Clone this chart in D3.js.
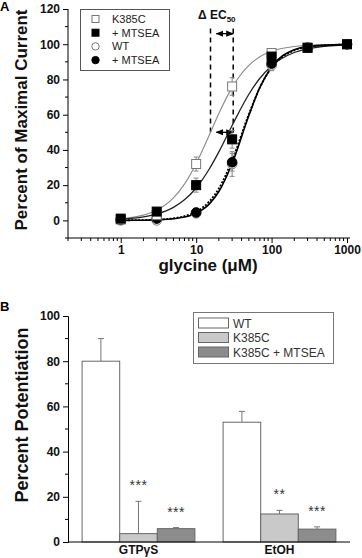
<!DOCTYPE html>
<html><head><meta charset="utf-8">
<script src="https://cdn.jsdelivr.net/npm/d3@7"></script>
<style>body{margin:0;background:#fff} svg{display:block} text{font-family:Arial,"Liberation Sans",sans-serif}</style>
</head><body>
<svg id="c" width="362" height="558"></svg>
<script>
// ---------- Panel A data ----------
const concentrations = [1, 3, 10, 30, 100, 300, 1000];
const k385cValues = [0.5, 3, 32, 76, 95, 98, 100];
const k385cErrors = [0.5, 1, 4, 5, 2, 1, 1];
const k385cMtseaValues = [1, 5, 20, 46, 93, 98, 100];
const k385cMtseaErrors = [0.5, 1.5, 4, 5, 2, 1, 1];
const wtValues = [0, 0, 4, 32, 88, 98, 100];
const wtErrors = [0.5, 0.5, 1, 7, 3, 1, 1];
const wtMtseaValues = [0.5, 1, 4.5, 33, 89, 98, 100];
const wtMtseaErrors = [0.5, 0.5, 1, 5, 3, 1, 1];
// fitted curves
const fitConcentrations = [1, 2, 3, 5, 7, 10, 15, 20, 30, 50, 70, 100, 200, 300, 1000];
const k385cFit = [0.9, 3.0, 5.8, 12.8, 20.6, 32.2, 48.6, 60.7, 75.5, 88.0, 92.9, 96.0, 98.7, 99.4, 99.9];
const k385cMtseaFit = [0.7, 2.0, 3.6, 7.4, 11.7, 18.4, 29.3, 38.9, 53.9, 71.6, 80.7, 87.7, 95.3, 97.4, 99.6];
const wtFit = [0.03, 0.1, 0.3, 0.9, 1.9, 4.1, 9.4, 16.4, 32.3, 59.5, 75.5, 87.1, 96.9, 98.7, 99.9];
const wtMtseaFit = [0.04, 0.2, 0.4, 1.2, 2.4, 4.9, 10.8, 18.1, 34.2, 60.3, 75.5, 86.7, 96.5, 98.5, 99.9];
const ec50Markers = [15.5, 31];
const ec50ArrowSpan = [18.5, 31];
const ec50ArrowLevels = [106, 50];
const legendALabels = ["K385C", "+ MTSEA", "WT", "+ MTSEA"];
const yTicksA = [0, 20, 40, 60, 80, 100, 120];
const xTicksA = [1, 10, 100, 1000];

// ---------- Panel B data ----------
const groups = ["GTP\u03B3S", "EtOH"];
const conditions = ["WT", "K385C", "K385C + MTSEA"];
const gtpValues = [80, 3.7, 5.9];
const gtpErrors = [10, 14.3, 0.5];
const etohValues = [53, 12.4, 5.7];
const etohErrors = [4.8, 1.6, 1];
const significance = [["", "***", "***"], ["", "**", "***"]];
const yTicksB = [0, 20, 40, 60, 80, 100];

const svg = d3.select("#c");
const FONT = 'Arial,"Liberation Sans",sans-serif';

// ================= Panel A =================
const xA = d3.scaleLog().domain([0.2, 1000]).range([68, 347]);
const yA = d3.scaleLinear().domain([-10, 120]).range([238, 9]);

const gA = svg.append("g");
const yAxA = d3.axisLeft(yA).tickValues(yTicksA).tickSize(5).tickPadding(3).tickFormat(d3.format("d"));
const yAxisA = gA.append("g").attr("transform", "translate(68,0)").call(yAxA);
yAxisA.select(".domain").attr("d", `M0,${yA(120)}V${yA(-10)}`);
const yMinorA = d3.range(-10, 120, 20);
gA.append("g").selectAll("line").data(yMinorA).join("line")
  .attr("x1", 68).attr("x2", 65).attr("y1", d => yA(d)).attr("y2", d => yA(d)).attr("stroke", "#000");
const xAxA = d3.axisBottom(xA).tickValues(xTicksA).tickSize(5).tickPadding(2).tickFormat(d3.format("d"));
const xAxisA = gA.append("g").attr("transform", `translate(0,${yA(-10)})`).call(xAxA);
xAxisA.select(".domain").attr("d", `M68,0H350`);
const xMinorA = [];
[0.1, 1, 10, 100].forEach(dec => { for (let k = 2; k <= 9; k++) { const v = dec * k; if (v >= 0.2 && v < 1000) xMinorA.push(v); } });
gA.append("g").selectAll("line").data(xMinorA).join("line")
  .attr("x1", d => xA(d)).attr("x2", d => xA(d)).attr("y1", yA(-10)).attr("y2", yA(-10) + 3).attr("stroke", "#000");
[yAxisA, xAxisA].forEach(a => {
  a.selectAll("text").attr("font-family", FONT).attr("font-size", 12).attr("font-weight", "bold").attr("fill", "#111");
  a.selectAll("line,path").attr("stroke", "#000");
});

gA.append("text").attr("transform", `translate(27,120) rotate(-90)`).attr("text-anchor", "middle")
  .attr("font-size", 17).attr("font-weight", "bold").attr("fill", "#111").text("Percent of Maximal Current");
gA.append("text").attr("x", 208).attr("y", 271).attr("text-anchor", "middle")
  .attr("font-size", 17).attr("font-weight", "bold").attr("fill", "#111").text("glycine (\u03BCM)");
svg.append("text").attr("x", 0).attr("y", 11).attr("font-size", 13).attr("font-weight", "bold").text("A");

// EC50 annotation
const dashG = gA.append("g");
ec50Markers.forEach(v => {
  dashG.append("line").attr("x1", xA(v)).attr("x2", xA(v)).attr("y1", yA(109)).attr("y2", yA(50))
    .attr("stroke", "#000").attr("stroke-width", 1.5).attr("stroke-dasharray", "5,4");
});
const defs = svg.append("defs");
defs.append("marker").attr("id", "ah").attr("viewBox", "0 0 10 10").attr("refX", 9).attr("refY", 5)
  .attr("markerWidth", 6).attr("markerHeight", 6).attr("orient", "auto-start-reverse")
  .append("path").attr("d", "M0,1L10,5L0,9Z").attr("fill", "#000");
ec50ArrowLevels.forEach(lv => {
  dashG.append("line").attr("x1", xA(ec50ArrowSpan[0])).attr("x2", xA(ec50ArrowSpan[1]))
    .attr("y1", yA(lv)).attr("y2", yA(lv)).attr("stroke", "#000").attr("stroke-width", 1.3)
    .attr("marker-start", "url(#ah)").attr("marker-end", "url(#ah)");
});
const ecText = gA.append("text").attr("x", 198).attr("y", 19).attr("font-size", 12).attr("font-weight", "bold").attr("fill", "#111");
ecText.append("tspan").text("\u0394 EC");
ecText.append("tspan").attr("dy", 3).attr("font-size", 8).text("50");

// curves
const line = d3.line().x(d => xA(d[0])).y(d => yA(d[1])).curve(d3.curveMonotoneX);
const fits = [
  { v: k385cFit, stroke: "#8a8a8a", w: 1.1, dash: null },
  { v: k385cMtseaFit, stroke: "#222", w: 1.3, dash: null },
  { v: wtFit, stroke: "#000", w: 1.6, dash: null },
  { v: wtMtseaFit, stroke: "#000", w: 1.8, dash: "2,1.5" }
];
fits.forEach(f => {
  gA.append("path").datum(fitConcentrations.map((c, i) => [c, f.v[i]]))
    .attr("d", line).attr("fill", "none").attr("stroke", f.stroke).attr("stroke-width", f.w)
    .attr("stroke-dasharray", f.dash);
});

const seriesA = [
  { v: wtValues, e: wtErrors, shape: "circle", fill: "#fff", stroke: "#777" },
  { v: wtMtseaValues, e: wtMtseaErrors, shape: "circle", fill: "#000", stroke: "#000" },
  { v: k385cValues, e: k385cErrors, shape: "square", fill: "#fff", stroke: "#777" },
  { v: k385cMtseaValues, e: k385cMtseaErrors, shape: "square", fill: "#000", stroke: "#000" }
];
seriesA.forEach(s => {
  const g = gA.append("g");
  concentrations.forEach((c, i) => {
    const x = xA(c);
    g.append("line").attr("x1", x).attr("x2", x).attr("y1", yA(s.v[i] - s.e[i])).attr("y2", yA(s.v[i] + s.e[i])).attr("stroke", "#888").attr("stroke-width", 1);
    [s.v[i] - s.e[i], s.v[i] + s.e[i]].forEach(ev => g.append("line").attr("x1", x - 2.5).attr("x2", x + 2.5).attr("y1", yA(ev)).attr("y2", yA(ev)).attr("stroke", "#888"));
  });
});
function drawSymbol(g, shape, x, y, fill, stroke) {
  if (shape === "square") g.append("rect").attr("x", x - 4.5).attr("y", y - 4.5).attr("width", 9).attr("height", 9).attr("fill", fill).attr("stroke", stroke).attr("stroke-width", 1);
  else g.append("circle").attr("cx", x).attr("cy", y).attr("r", 4.8).attr("fill", fill).attr("stroke", stroke).attr("stroke-width", 1);
}
seriesA.forEach(s => {
  const g = gA.append("g");
  concentrations.forEach((c, i) => drawSymbol(g, s.shape, xA(c), yA(s.v[i]), s.fill, s.stroke));
});

// legend A
const legA = gA.append("g");
legA.append("rect").attr("x", 80.5).attr("y", 9.5).attr("width", 89).attr("height", 61).attr("fill", "#fff").attr("stroke", "#555");
const legShapes = [["square", "#fff", "#777"], ["square", "#000", "#000"], ["circle", "#fff", "#777"], ["circle", "#000", "#000"]];
legendALabels.forEach((lab, i) => {
  const y = 19 + i * 13.7;
  const sh = legShapes[i];
  if (sh[0] === "square") legA.append("rect").attr("x", 92).attr("y", y - 3.5).attr("width", 7).attr("height", 7).attr("fill", sh[1]).attr("stroke", sh[2]);
  else legA.append("circle").attr("cx", 95.5).attr("cy", y).attr("r", 3.7).attr("fill", sh[1]).attr("stroke", sh[2]);
  legA.append("text").attr("x", 112).attr("y", y + 4).attr("font-size", 11).attr("fill", "#222").text(lab);
});

// ================= Panel B =================
const x0 = d3.scaleBand().domain(groups).range([68, 350]).paddingInner(0.2).paddingOuter(0.1);
const x1 = d3.scaleBand().domain(conditions).range([0, x0.bandwidth()]);
const yB = d3.scaleLinear().domain([0, 100]).range([542, 316]);
const colors = d3.scaleOrdinal().domain(conditions).range(["#ffffff", "#c9c9c9", "#8c8c8c"]);
const gB = svg.append("g");

const yAxB = d3.axisLeft(yB).tickValues(yTicksB).tickSize(5).tickPadding(3).tickFormat(d3.format("d"));
const yAxisB = gB.append("g").attr("transform", "translate(68,0)").call(yAxB);
yAxisB.selectAll("text").attr("font-family", FONT).attr("font-size", 12).attr("font-weight", "bold").attr("fill", "#111");
yAxisB.selectAll("line,path").attr("stroke", "#000");
gB.append("g").selectAll("line").data(d3.range(10, 100, 20)).join("line")
  .attr("x1", 68).attr("x2", 65).attr("y1", d => yB(d)).attr("y2", d => yB(d)).attr("stroke", "#000");

gB.append("text").attr("transform", `translate(28,415) rotate(-90)`).attr("text-anchor", "middle")
  .attr("font-size", 18).attr("font-weight", "bold").attr("fill", "#111").text("Percent Potentiation");
svg.append("text").attr("x", 0).attr("y", 311).attr("font-size", 13).attr("font-weight", "bold").text("B");

const groupValues = [gtpValues, etohValues];
const groupErrors = [gtpErrors, etohErrors];
groups.forEach((grp, gi) => {
  const gx = x0(grp);
  conditions.forEach((cond, ci) => {
    const v = groupValues[gi][ci], e = groupErrors[gi][ci];
    const bx = gx + x1(cond), bw = x1.bandwidth();
    const cx = bx + bw / 2;
    gB.append("line").attr("x1", cx).attr("x2", cx).attr("y1", yB(v)).attr("y2", yB(v + e)).attr("stroke", "#777");
    gB.append("line").attr("x1", cx - 3).attr("x2", cx + 3).attr("y1", yB(v + e)).attr("y2", yB(v + e)).attr("stroke", "#777");
    gB.append("rect").attr("x", bx).attr("y", yB(v)).attr("width", bw).attr("height", yB(0) - yB(v))
      .attr("fill", colors(cond)).attr("stroke", "#666").attr("stroke-width", 1);
    const sig = significance[gi][ci];
    if (sig) gB.append("text").attr("x", cx).attr("y", yB(v + e) - 11).attr("text-anchor", "middle")
      .attr("font-size", 14).attr("letter-spacing", 0.5).attr("fill", "#333").text(sig);
  });
});
gB.append("line").attr("x1", 68).attr("x2", 350).attr("y1", yB(0)).attr("y2", yB(0)).attr("stroke", "#000");
gB.selectAll(".glab").data(groups).join("text").attr("class", "glab")
  .attr("x", d => x0(d) + x0.bandwidth() / 2).attr("y", 554).attr("text-anchor", "middle")
  .attr("font-size", 12).attr("font-weight", "bold").attr("fill", "#111").text(d => d);

// legend B
const legB = gB.append("g");
legB.append("rect").attr("x", 193.5).attr("y", 312.5).attr("width", 140).attr("height", 51).attr("fill", "#fff").attr("stroke", "#777");
conditions.forEach((cond, i) => {
  const y = 323 + i * 14.5;
  legB.append("rect").attr("x", 198.5).attr("y", y - 5).attr("width", 30).attr("height", 10).attr("fill", colors(cond)).attr("stroke", "#666");
  legB.append("text").attr("x", 233).attr("y", y + 4.5).attr("font-size", 12).attr("fill", "#333").text(cond);
});
</script>
</body></html>
